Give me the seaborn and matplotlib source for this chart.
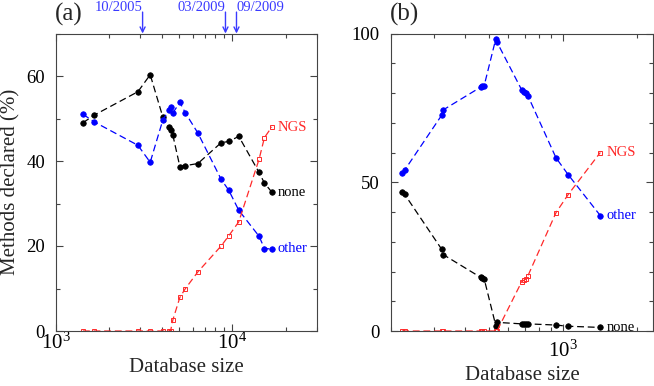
import numpy as np
import pandas as pd
import matplotlib
matplotlib.use("Agg")
import matplotlib.pyplot as plt
from matplotlib.ticker import LogLocator, MultipleLocator, LogFormatterSciNotation, NullFormatter
import seaborn as sns

# ---------------- data: panel (a) ----------------
size_a = [1421, 1647, 2911, 3418, 4033, 4360, 4457, 4592, 5032, 5392, 6362,
          8620, 9529, 10856, 14143, 15170, 16690]
none_a = [49.0, 50.8, 56.3, 60.3, 50.3, 48.0, 47.4, 46.1, 38.7, 38.9, 39.4,
          44.3, 44.6, 45.8, 37.3, 34.8, 32.7]
other_a = [51.0, 49.2, 43.7, 39.7, 49.7, 51.9, 52.6, 51.3, 53.8, 51.4, 46.6,
           35.7, 33.1, 28.4, 22.3, 19.4, 19.3]
ngs_a = [0, 0, 0, 0, 0, 0, 0, 2.6, 7.9, 9.9, 13.9,
         20.0, 22.4, 25.7, 40.4, 45.5, 48.0]

# top-axis release markers (panel a)
release_labels = ["10/2005", "03/2009", "09/2009"]
release_sizes = [3095, 9125, 10535]
release_align = ["right", "right", "left"]

# ---------------- data: panel (b) ----------------
size_b = [222, 227, 322, 326, 464, 471, 479, 534, 540, 681, 696, 709, 722,
          939, 1051, 1422]
other_b = [53.2, 54.0, 72.6, 74.3, 82.0, 82.3, 82.5, 98.2, 97.1, 81.0, 80.5,
           80.1, 79.0, 58.2, 52.6, 38.8]
none_b = [46.8, 46.0, 27.4, 25.7, 18.0, 17.7, 17.5, 1.8, 2.9, 2.4, 2.4,
          2.4, 2.4, 2.0, 1.6, 1.2]
ngs_b = [0, 0, 0, 0, 0, 0, 0, 0, 0, 16.6, 17.1, 17.5, 18.6, 39.8, 45.8, 60.0]

series_names = ["none", "other", "NGS"]
series_colors = {"none": "#000000", "other": "#0000ff", "NGS": "#ff2a2a"}

# ---------------- style ----------------
sns.set_theme(style="ticks")
plt.rcParams["font.family"] = ["Liberation Serif", "DejaVu Serif"]
plt.rcParams["mathtext.fontset"] = "custom"
plt.rcParams["mathtext.rm"] = "Liberation Serif"
plt.rcParams["mathtext.it"] = "Liberation Serif:italic"
plt.rcParams["axes.edgecolor"] = "#444444"
plt.rcParams["axes.linewidth"] = 0.8
plt.rcParams["xtick.color"] = "#444444"
plt.rcParams["ytick.color"] = "#444444"
plt.rcParams["xtick.labelcolor"] = "black"
plt.rcParams["ytick.labelcolor"] = "black"

fig = plt.figure(figsize=(6.54, 3.86), dpi=100)
ax_a = fig.add_axes([56 / 654, 55 / 386, (316.7 - 56) / 654, (331 - 33.5) / 386])
ax_b = fig.add_axes([391 / 654, 55 / 386, (653 - 391) / 654, (331 - 33.5) / 386])

dash = (0, (5.5, 3.0))


def draw(ax, sizes, vals):
    for name in series_names:
        y = vals[name]
        col = series_colors[name]
        if name == "NGS":
            sns.lineplot(x=sizes, y=y, ax=ax, color=col, linestyle=dash, lw=0.9,
                         marker="s", markersize=3.4, markerfacecolor="none",
                         markeredgecolor=col, markeredgewidth=0.7,
                         estimator=None, sort=False, legend=False)
        else:
            sns.lineplot(x=sizes, y=y, ax=ax, color=col, linestyle=dash, lw=0.9,
                         marker="o", markersize=4.0, markerfacecolor=col,
                         markeredgecolor=col, markeredgewidth=0.5,
                         estimator=None, sort=False, legend=False)
        ax.annotate(name, xy=(sizes[-1], y[-1]), xytext=(6, 0),
                    textcoords="offset pixels", color=col, fontsize=10.5,
                    ha="left", va="center")


draw(ax_a, size_a, {"none": none_a, "other": other_a, "NGS": ngs_a})
draw(ax_b, size_b, {"none": none_b, "other": other_b, "NGS": ngs_b})

for ax in (ax_a, ax_b):
    ax.set_xscale("log")
    ax.xaxis.set_major_locator(LogLocator(base=10, numticks=10))
    ax.xaxis.set_minor_locator(LogLocator(base=10, subs=np.arange(2, 10), numticks=20))
    ax.xaxis.set_major_formatter(LogFormatterSciNotation())
    ax.xaxis.set_minor_formatter(NullFormatter())
    ax.yaxis.set_minor_locator(MultipleLocator(10))
    ax.tick_params(which="both", direction="in", top=True, right=True)
    ax.tick_params(axis="y", labelsize=13.5, pad=8)
    ax.tick_params(axis="x", labelsize=15, pad=1)
    ax.tick_params(which="major", length=5, width=0.8)
    ax.tick_params(which="minor", length=3, width=0.8)
    ax.set_ylabel("")
    for s in ax.spines.values():
        s.set_visible(True)

ax_a.set_xlabel("Database size", fontsize=15, labelpad=3)
ax_b.tick_params(axis="x", pad=7)
ax_b.set_xlabel("Database size", fontsize=15, labelpad=3)

ax_a.set_xlim(1000, 30000)
ax_a.set_ylim(0, 70)
ax_a.yaxis.set_major_locator(MultipleLocator(20))
ax_a.set_ylabel("Methods declared (%)", fontsize=15)
ax_a.yaxis.set_label_coords(-36 / 260.7, 0.5)

ax_b.set_xlim(200, 2330)
ax_b.set_ylim(0, 100)
ax_b.yaxis.set_major_locator(MultipleLocator(50))

# panel letters
fig.text(55 / 654, 1 - 14 / 386, "(a)", fontsize=18, ha="left", va="center")
fig.text(390 / 654, 1 - 14 / 386, "(b)", fontsize=18, ha="left", va="center")

# release arrows on top of panel (a)
arrow_col = "#3a3aff"
for lab, xs, al in zip(release_labels, release_sizes, release_align):
    ax_a.annotate("", xy=(xs, 1.0), xycoords=("data", "axes fraction"),
                  xytext=(xs, 1.072), textcoords=("data", "axes fraction"),
                  arrowprops=dict(arrowstyle="->", color=arrow_col, lw=1.0,
                                  mutation_scale=9, shrinkA=0, shrinkB=0),
                  annotation_clip=False)
    ax_a.text(xs, 1.076, lab, transform=ax_a.get_xaxis_transform(),
              color=arrow_col, fontsize=10.5, ha=al, va="baseline", clip_on=False)

fig.savefig("out.png", dpi=100)
